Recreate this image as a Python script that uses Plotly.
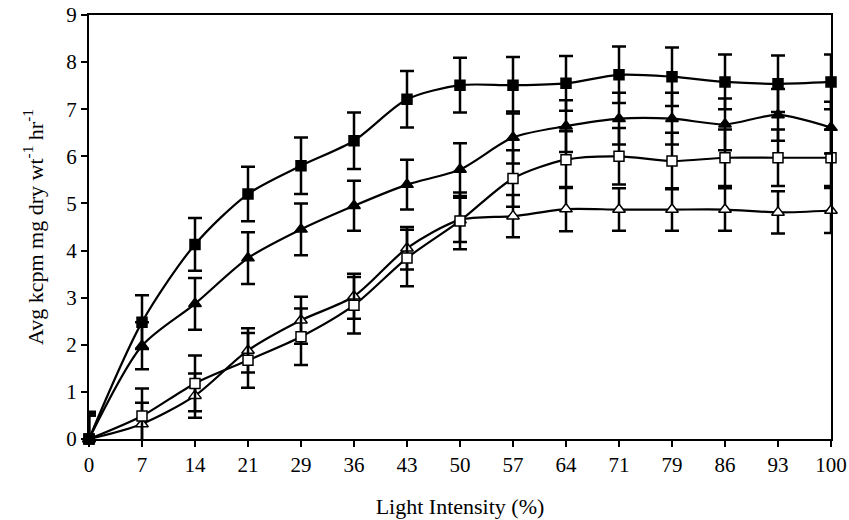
import plotly.graph_objects as go

light = ["0", "7", "14", "21", "29", "36", "43", "50", "57", "64", "71", "79", "86", "93", "100"]

filled_sq = [0, 2.48, 4.13, 5.2, 5.8, 6.33, 7.21, 7.51, 7.51, 7.55, 7.73, 7.69, 7.58, 7.54, 7.58]
filled_sq_err = [0.58, 0.57, 0.56, 0.58, 0.6, 0.6, 0.6, 0.58, 0.6, 0.58, 0.6, 0.62, 0.58, 0.6, 0.58]

filled_tri = [0, 1.98, 2.87, 3.84, 4.45, 4.95, 5.4, 5.72, 6.4, 6.64, 6.8, 6.8, 6.68, 6.88, 6.61]
filled_tri_err = [0.5, 0.5, 0.55, 0.55, 0.55, 0.53, 0.53, 0.56, 0.55, 0.55, 0.55, 0.55, 0.55, 0.55, 0.55]

open_sq = [0, 0.49, 1.18, 1.67, 2.17, 2.84, 3.84, 4.63, 5.53, 5.93, 6.0, 5.9, 5.97, 5.97, 5.97]
open_sq_err = [0.55, 0.58, 0.59, 0.58, 0.6, 0.6, 0.6, 0.6, 0.6, 0.6, 0.6, 0.6, 0.6, 0.6, 0.6]

open_tri = [0, 0.32, 0.92, 1.88, 2.52, 3.03, 4.05, 4.65, 4.73, 4.88, 4.87, 4.87, 4.87, 4.81, 4.85]
open_tri_err = [0.5, 0.45, 0.47, 0.47, 0.5, 0.48, 0.45, 0.47, 0.45, 0.47, 0.45, 0.45, 0.45, 0.45, 0.48]

fig = go.Figure()

def add(y, err, symbol, fill, size):
    fig.add_trace(go.Scatter(
        x=light, y=y,
        mode="lines+markers",
        line=dict(color="black", width=2.2, shape="spline", smoothing=0.8),
        marker=dict(symbol=symbol, size=size, color=fill, line=dict(color="black", width=1.5)),
        error_y=dict(type="data", array=err, visible=True, color="black", thickness=2.5, width=7),
        cliponaxis=False,
        showlegend=False,
    ))

add(open_tri, open_tri_err, "triangle-up", "white", 11)
add(open_sq, open_sq_err, "square", "white", 10)
add(filled_tri, filled_tri_err, "triangle-up", "black", 11)
add(filled_sq, filled_sq_err, "square", "black", 10)

font_family = "Liberation Serif"

fig.update_layout(
    width=849, height=520,
    margin=dict(l=89, r=18, t=15, b=81, autoexpand=False),
    paper_bgcolor="white", plot_bgcolor="white",
    font=dict(family=font_family, color="black", size=20),
    xaxis=dict(
        type="category", range=[0, 14], automargin=False, ticklabeloverflow="allow",
        showline=True, linecolor="black", linewidth=2, mirror=True,
        ticks="outside", ticklen=6, tickwidth=2, tickcolor="black",
        showgrid=False, zeroline=False,
        tickfont=dict(size=21),
        title=dict(text="Light Intensity (%)", font=dict(size=22), standoff=22),
    ),
    yaxis=dict(
        range=[0, 9], dtick=1, automargin=False, ticklabeloverflow="allow",
        showline=True, linecolor="black", linewidth=2, mirror=True,
        ticks="outside", ticklen=6, tickwidth=2, tickcolor="black",
        showgrid=False, zeroline=False,
        tickfont=dict(size=21),
        title=dict(text="Avg kcpm mg dry wt<sup>-1</sup> hr<sup>-1</sup>", font=dict(size=22), standoff=17),
    ),
)

fig.write_html("out.html", config={"displayModeBar": False},
               post_script="document.body.style.margin='0';document.body.style.overflow='hidden';")
